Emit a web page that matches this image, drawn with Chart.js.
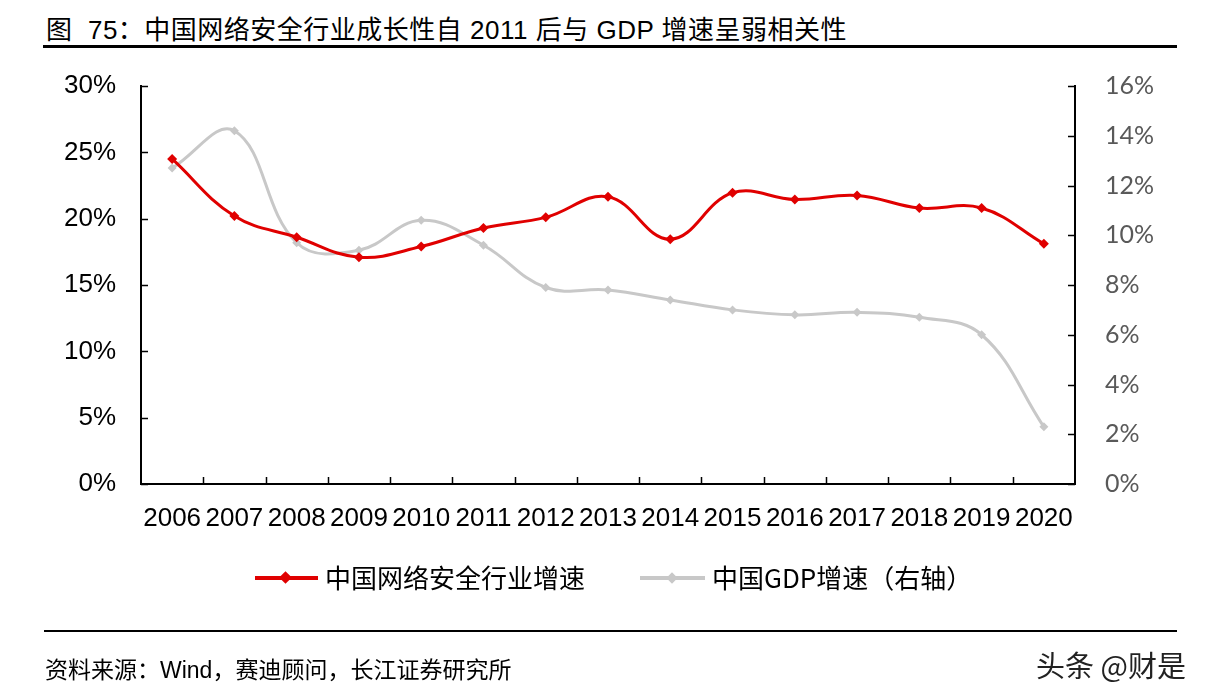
<!DOCTYPE html>
<html>
<head>
<meta charset="utf-8">
<script src="https://cdn.jsdelivr.net/npm/chart.js@4"></script>
<style>
  body { margin: 0; background: #fff; }
  #wrap { position: relative; width: 1206px; height: 698px; overflow: hidden; font-family: "Liberation Sans", Arial, "Noto Sans CJK SC", sans-serif; color: #000; }
  #chart { position: absolute; left: 0; top: 0; }
  .abs { position: absolute; white-space: nowrap; }
  .title { left: 46px; top: 15px; font-size: 26px; line-height: 30px; letter-spacing: 0.5px; }
  .rule { background: #000; height: 3px; }
  .legend { font-family: "Noto Sans CJK SC", sans-serif; font-size: 26px; line-height: 30px; top: 562px; }
  .swatch { height: 4px; top: 576px; }
  .source { left: 45px; top: 656px; font-size: 23px; line-height: 28px; }
  .mark { left: 1036px; top: 648px; font-family: "Noto Sans CJK SC", sans-serif; font-size: 29px; line-height: 32px; color: #222; text-shadow: 0 0 2px #fff; }
</style>
</head>
<body>
<div id="wrap">
  <div class="abs title">图&nbsp; 75：中国网络安全行业成长性自 2011 后与 GDP 增速呈弱相关性</div>
  <div class="abs rule" style="left:43px; top:45px; width:1134px;"></div>
  <canvas id="chart" width="1206" height="698"></canvas>
  <div class="abs swatch" style="left:255px; width:63px; background:#e00000;"></div>
  <div class="abs" style="left:281px; top:573px; width:9px; height:9px; background:#e00000; transform:rotate(45deg);"></div>
  <div class="abs legend" style="left:325px;">中国网络安全行业增速</div>
  <div class="abs swatch" style="left:640px; width:65px; background:#c8c8c8;"></div>
  <div class="abs" style="left:668px; top:574px; width:8px; height:8px; background:#c8c8c8; transform:rotate(45deg);"></div>
  <div class="abs legend" style="left:712px;">中国GDP增速（右轴）</div>
  <div class="abs rule" style="left:44px; top:630px; width:1133px; height:2px;"></div>
  <div class="abs source">资料来源：Wind，赛迪顾问，长江证券研究所</div>
  <div class="abs mark">头条 @财是</div>
</div>
<script>
const years = ['2006', '2007', '2008', '2009', '2010', '2011', '2012', '2013', '2014', '2015', '2016', '2017', '2018', '2019', '2020'];
const securityGrowth = [24.5, 20.2, 18.6, 17.1, 17.9, 19.3, 20.1, 21.65, 18.45, 21.95, 21.45, 21.75, 20.8, 20.8, 18.1];
const gdpGrowth = [12.7, 14.2, 9.7, 9.4, 10.6, 9.6, 7.9, 7.8, 7.4, 7.0, 6.8, 6.9, 6.7, 6.0, 2.3];
const leftTicks = [0, 5, 10, 15, 20, 25, 30];
const rightTicks = [0, 2, 4, 6, 8, 10, 12, 14, 16];

// excel style ticks point into the plot
const innerTicks = {
  id: 'innerTicks',
  afterDraw(chart) {
    const { ctx, chartArea: area, scales } = chart;
    const len = 7;
    ctx.save();
    ctx.strokeStyle = '#000';
    ctx.lineWidth = 1.5;
    ctx.beginPath();
    for (const v of leftTicks) {
      const y = Math.round(scales.y.getPixelForValue(v)) + 0.5;
      ctx.moveTo(area.left, y);
      ctx.lineTo(area.left + len, y);
    }
    for (const v of rightTicks) {
      const y = Math.round(scales.y1.getPixelForValue(v)) + 0.5;
      ctx.moveTo(area.right, y);
      ctx.lineTo(area.right - len, y);
    }
    for (let i = 1; i < years.length; i++) {
      const x = Math.round(scales.x.getPixelForValue(i - 0.5)) + 0.5;
      ctx.moveTo(x, area.bottom);
      ctx.lineTo(x, area.bottom - len);
    }
    ctx.stroke();
    ctx.restore();
  }
};

new Chart(document.getElementById('chart'), {
  type: 'line',
  data: {
    labels: years,
    datasets: [
      {
        label: '中国网络安全行业增速',
        data: securityGrowth,
        yAxisID: 'y',
        borderColor: '#e00000',
        backgroundColor: '#e00000',
        borderWidth: 3,
        tension: 0.4,
        pointStyle: 'rectRot',
        pointRadius: 5,
        pointBorderWidth: 0
      },
      {
        label: '中国GDP增速（右轴）',
        data: gdpGrowth,
        yAxisID: 'y1',
        borderColor: '#c8c8c8',
        backgroundColor: '#c8c8c8',
        borderWidth: 3,
        tension: 0.4,
        pointStyle: 'rectRot',
        pointRadius: 4.5,
        pointBorderWidth: 0
      }
    ]
  },
  options: {
    responsive: false,
    animation: false,
    layout: { padding: { top: 86, left: 0, right: 0, bottom: 0 } },
    plugins: {
      legend: { display: false },
      tooltip: { enabled: false }
    },
    scales: {
      x: {
        offset: true,
        afterFit: (scale) => { scale.height = 214; },
        border: { color: '#000', width: 2 },
        grid: { display: false },
        ticks: {
          color: '#000',
          padding: 11,
          maxRotation: 0,
          autoSkip: false,
          font: { family: '"Liberation Sans", Arial', size: 26 }
        }
      },
      y: {
        position: 'left',
        min: 0,
        max: 30,
        afterFit: (scale) => { scale.width = 141; },
        afterBuildTicks: (scale) => { scale.ticks = leftTicks.map(v => ({ value: v })); },
        border: { color: '#000', width: 2 },
        grid: { display: false },
        ticks: {
          color: '#000',
          padding: 17,
          callback: (v) => v + '%',
          font: { family: '"Liberation Sans", Arial', size: 26 }
        }
      },
      y1: {
        position: 'right',
        min: 0,
        max: 16,
        afterFit: (scale) => { scale.width = 131; },
        afterBuildTicks: (scale) => { scale.ticks = rightTicks.map(v => ({ value: v })); },
        border: { color: '#000', width: 2 },
        grid: { display: false },
        ticks: {
          color: '#595959',
          padding: 22,
          callback: (v) => v + '%',
          font: { family: 'Lato', size: 25 }
        }
      }
    }
  },
  plugins: [innerTicks]
});
</script>
</body>
</html>
